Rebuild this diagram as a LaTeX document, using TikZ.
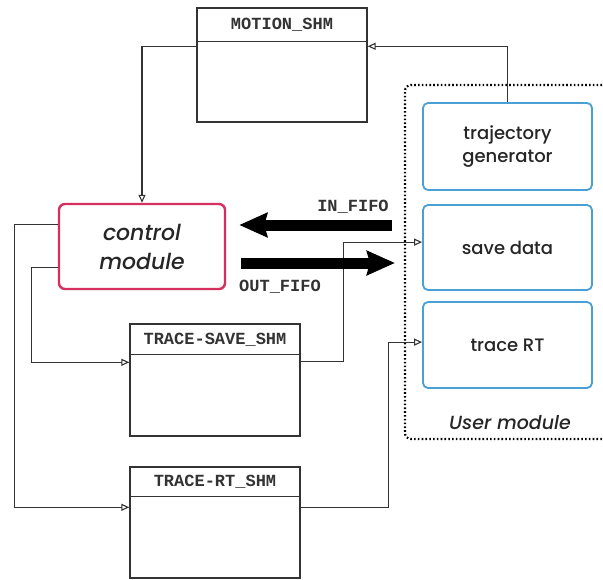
\documentclass[tikz,border=0pt]{standalone}
\usepackage{fontspec}
\setsansfont{Poppins}[UprightFont={* Medium}, ItalicFont={* Medium Italic}]
\setmonofont{Liberation Mono}
\usetikzlibrary{arrows.meta,calc}
\definecolor{ctrlred}{HTML}{D62E5E}
\definecolor{ublue}{HTML}{4A9FD5}
\definecolor{lnc}{HTML}{333333}
\begin{document}
\begin{tikzpicture}[x=1pt,y=-1pt,
  shm/.style={draw=lnc, line width=1.4pt, minimum width=170pt, inner sep=0pt},
  shmtitle/.style={font=\ttfamily\bfseries\fontsize{17}{19}\selectfont, text=lnc},
  ctrl/.style={draw=ctrlred, line width=2.4pt, rounded corners=6pt, minimum width=166pt, minimum height=85pt, font=\sffamily\itshape\fontsize{22}{29}\selectfont, align=center, text=black!85},
  ubox/.style={draw=ublue, line width=1.8pt, rounded corners=5pt, minimum width=169pt, font=\sffamily\fontsize{18}{23}\selectfont, align=center, text=black!85},
  conn/.style={draw=lnc, line width=1.1pt, -{Triangle[open,length=8pt,width=7pt]}},
  fifo/.style={line width=11pt, -{Stealth[length=28pt,width=24pt,inset=3pt]}},
  mono/.style={font=\ttfamily\bfseries\fontsize{17}{19}\selectfont, text=lnc}
]
\useasboundingbox (0,0) rectangle (603,579);
\fill[white] (0,0) rectangle (603,579);

% shared memory boxes
\node[shm, minimum height=114pt] (ms) at (282,65) {};
\draw[lnc, line width=1.4pt] ([yshift=-34pt]ms.north west) -- ([yshift=-34pt]ms.north east);
\node[shmtitle] (mst) at (282,25) {MOTION\_SHM};

\node[shm, minimum height=112pt] (ts) at (215,380) {};
\draw[lnc, line width=1.4pt] ([yshift=-31pt]ts.north west) -- ([yshift=-31pt]ts.north east);
\node[shmtitle] (tst) at (215,340) {TRACE-SAVE\_SHM};

\node[shm, minimum height=111pt] (rt) at (215,522.5) {};
\draw[lnc, line width=1.4pt] ([yshift=-30pt]rt.north west) -- ([yshift=-30pt]rt.north east);
\node[shmtitle] (rtt) at (215,482) {TRACE-RT\_SHM};

% control module
\node[ctrl] (cm) at (142,246.5) {control\\module};

% user module
\draw[line width=2.2pt, dash pattern=on 1.6pt off 2.2pt, rounded corners=6pt]
  (640,85) -- (405,85) -- (405,439) -- (640,439);
\node[ubox, minimum height=87pt] (tg) at (507.5,146.5) {trajectory\\generator};
\node[ubox, minimum height=85pt] (sd) at (507.5,247.5) {save data};
\node[ubox, minimum height=86pt] (tr) at (507.5,345) {trace RT};
\node[font=\sffamily\itshape\fontsize{19}{22}\selectfont, text=black!85] (um) at (510,423) {User module};

% connectors
\draw[conn] (tg.north) |- ([yshift=-39pt]ms.north east);
\draw[conn] ([yshift=-39pt]ms.north west) -| (cm.north);
\draw[conn] ([yshift=-22pt]cm.north west) -- ++(-43,0) |- ([yshift=-41pt]rt.north west);
\draw[conn] ([yshift=-65pt]cm.north west) -- ++(-26,0) |- ([yshift=-39pt]ts.north west);
\draw[conn] ([yshift=-38pt]ts.north east) -- ++(43,0) |- ([yshift=-38pt]sd.north west);
\draw[conn] ([yshift=-41pt]rt.north east) -- ++(88,0) |- ([yshift=-41pt]tr.north west);

% FIFOs
\coordinate (inS) at (392,225);
\coordinate (outE) at (395,263);
\draw[fifo] (inS) -- ([xshift=13pt]cm.east |- inS);
\draw[fifo] ([xshift=15pt]cm.east |- outE) -- (outE);
\node[mono] (inl) at (353,207) {IN\_FIFO};
\node[mono] (outl) at (280,287) {OUT\_FIFO};
\end{tikzpicture}
\end{document}
